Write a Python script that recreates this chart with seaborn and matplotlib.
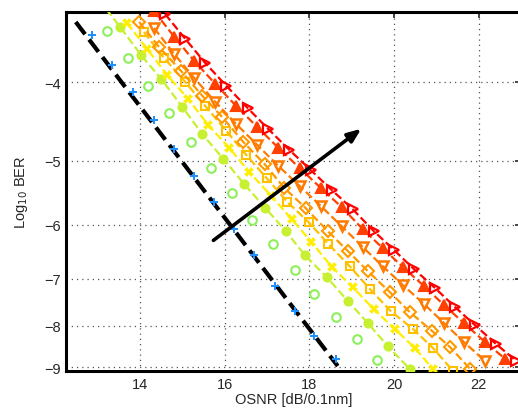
import matplotlib
matplotlib.use("Agg")
import matplotlib.pyplot as plt
import seaborn as sns
import pandas as pd
from matplotlib.ticker import FixedLocator, FixedFormatter, NullLocator

# ---------------- data (OSNR in dB/0.1nm, y = -log10(BER)) ----------------
theory_osnr = [12.48, 14.21, 15.87, 17.53, 18.67]
theory_nlog = [3.369, 4.430, 5.761, 7.492, 8.967]

b2b_osnr = [12.86, 13.34, 13.83, 14.33, 14.81, 15.28, 15.75, 16.23, 16.70, 17.18, 17.65, 18.12, 18.64]
b2b_nlog = [3.496, 3.808, 4.112, 4.453, 4.836, 5.224, 5.624, 6.073, 6.540, 7.143, 7.669, 8.233, 8.790]

s1_osnr = [13.22, 13.72, 14.19, 14.69, 15.21, 15.68, 16.18, 16.65, 17.15, 17.65, 18.12, 18.64, 19.12, 19.59]
s1_nlog = [3.456, 3.733, 4.042, 4.365, 4.741, 5.105, 5.482, 5.919, 6.338, 6.825, 7.307, 7.800, 8.304, 8.815]

s2_osnr = [13.03, 13.53, 14.02, 14.50, 15.00, 15.47, 15.97, 16.46, 16.96, 17.44, 17.89, 18.41, 18.91, 19.38, 19.85, 20.37]
s2_nlog = [3.165, 3.417, 3.701, 3.963, 4.291, 4.635, 4.976, 5.343, 5.720, 6.107, 6.540, 6.962, 7.454, 7.935, 8.471, 9.043]

s3_osnr = [13.69, 14.17, 14.64, 15.14, 15.61, 16.11, 16.58, 17.10, 17.58, 18.05, 18.53, 19.02, 19.52, 20.02, 20.49, 20.92]
s3_nlog = [3.379, 3.639, 3.918, 4.195, 4.517, 4.822, 5.163, 5.529, 5.902, 6.302, 6.767, 7.163, 7.625, 8.071, 8.519, 9.043]

s4_osnr = [14.09, 14.57, 15.07, 15.54, 16.04, 16.51, 16.99, 17.48, 17.98, 18.45, 18.95, 19.43, 19.92, 20.45, 20.92, 21.39]
s4_nlog = [3.467, 3.733, 3.998, 4.279, 4.595, 4.919, 5.253, 5.624, 5.953, 6.338, 6.748, 7.204, 7.669, 8.071, 8.519, 9.09]

s5_osnr = [13.98, 14.45, 14.97, 15.47, 15.94, 16.44, 16.94, 17.41, 17.91, 18.43, 18.91, 19.38, 19.90, 20.37, 20.90, 21.32, 21.80]
s5_nlog = [3.369, 3.618, 3.874, 4.156, 4.415, 4.741, 5.047, 5.404, 5.720, 6.107, 6.466, 6.844, 7.266, 7.690, 8.117, 8.495, 9.043]

s6_osnr = [14.33, 14.81, 15.28, 15.78, 16.27, 16.77, 17.27, 17.77, 18.27, 18.76, 19.26, 19.73, 20.21, 20.71, 21.18, 21.65, 22.15]
s6_nlog = [3.427, 3.692, 3.952, 4.231, 4.504, 4.781, 5.076, 5.373, 5.688, 6.022, 6.391, 6.748, 7.123, 7.517, 7.935, 8.375, 8.840]

s7_osnr = [14.33, 14.81, 15.28, 15.78, 16.27, 16.77, 17.27, 17.77, 18.27, 18.76, 19.26, 19.73, 20.21, 20.71, 21.18, 21.65, 22.15, 22.63]
s7_nlog = [3.265, 3.516, 3.765, 4.019, 4.279, 4.543, 4.822, 5.105, 5.404, 5.703, 6.073, 6.409, 6.767, 7.143, 7.539, 7.935, 8.375, 8.790]

s8_osnr = [14.59, 15.07, 15.54, 16.04, 16.54, 17.03, 17.53, 18.03, 18.53, 19.02, 19.52, 20.00, 20.47, 20.97, 21.44, 21.91, 22.41, 22.89]
s8_nlog = [3.293, 3.536, 3.786, 4.042, 4.303, 4.569, 4.850, 5.134, 5.435, 5.736, 6.107, 6.447, 6.805, 7.183, 7.582, 7.980, 8.423, 8.840]

y_ticks = [4, 5, 6, 7, 8, 9]
y_labels = ["\u22124", "\u22125", "\u22126", "\u22127", "\u22128", "\u22129"]
x_ticks = [14, 16, 18, 20, 22]

# ---------------- figure ----------------
sns.set_style("white")
plt.rcParams["font.family"] = ["Liberation Sans", "DejaVu Sans"]

fig = plt.figure(figsize=(5.18, 4.10), dpi=100)
ax = fig.add_axes([66 / 518, 38 / 410, 455 / 518, 359.5 / 410])

def series(x, y, color, marker, ls="--", filled=False, ms=6.5, lw=1.6, mew=1.5,
           dash=(5, 3.5), z=3):
    df = pd.DataFrame({"osnr": x, "nlog": y})
    sns.lineplot(data=df, x="osnr", y="nlog", ax=ax, sort=False,
                 color=color, linestyle=ls, linewidth=lw if ls != "none" else 0,
                 marker=marker, markersize=ms, markeredgewidth=mew,
                 markerfacecolor=color if filled else "none",
                 markeredgecolor=color, dashes=False if ls == "none" else dash,
                 zorder=z, clip_on=True)

series(theory_osnr, theory_nlog, "black", None, lw=3.0, dash=(2.5, 1.8), z=2)
series(b2b_osnr, b2b_nlog, "#1E90FF", "P", ls="none", filled=True, ms=6, mew=0)
series(s1_osnr, s1_nlog, "#8CF05A", "o", ls="none", ms=6.2)
series(s2_osnr, s2_nlog, "#C8F032", "o", filled=True, ms=5.8)
series(s3_osnr, s3_nlog, "#FFEE00", "X", filled=True, ms=6.5, mew=0)
series(s4_osnr, s4_nlog, "#FFC000", "s", ms=6.2)
series(s5_osnr, s5_nlog, "#FF9900", "D", ms=5.8)
series(s6_osnr, s6_nlog, "#FF7A00", "v", ms=7, mew=1.8)
series(s7_osnr, s7_nlog, "#FF4000", "^", filled=True, ms=7)
series(s8_osnr, s8_nlog, "#FF0000", ">", ms=7, mew=1.6)

ax.annotate("", xy=(19.28, 4.543), xytext=(15.68, 6.302),
            arrowprops=dict(arrowstyle="-|>,head_length=0.8,head_width=0.32",
                            color="black", lw=2.6), zorder=6)

ax.set_yscale("log")
ax.set_ylim(9.095, 3.27)
ax.set_xlim(12.25, 23.0)
ax.yaxis.set_major_locator(FixedLocator(y_ticks))
ax.yaxis.set_major_formatter(FixedFormatter(y_labels))
ax.yaxis.set_minor_locator(NullLocator())
ax.xaxis.set_major_locator(FixedLocator(x_ticks))

ax.grid(True, which="major", linestyle=(0, (1, 3.2)), color="#555555", linewidth=0.9)
for s in ax.spines.values():
    s.set_linewidth(2.2)
    s.set_color("black")
ax.tick_params(direction="in", length=4, width=1.2, labelsize=10.5, pad=4,
               top=True, right=True)

ax.set_xlabel("OSNR [dB/0.1nm]", fontsize=10.5, labelpad=1)
ax.set_ylabel("Log$_{10}$ BER", fontsize=10.5, labelpad=10)

fig.savefig("out.png", dpi=100)
